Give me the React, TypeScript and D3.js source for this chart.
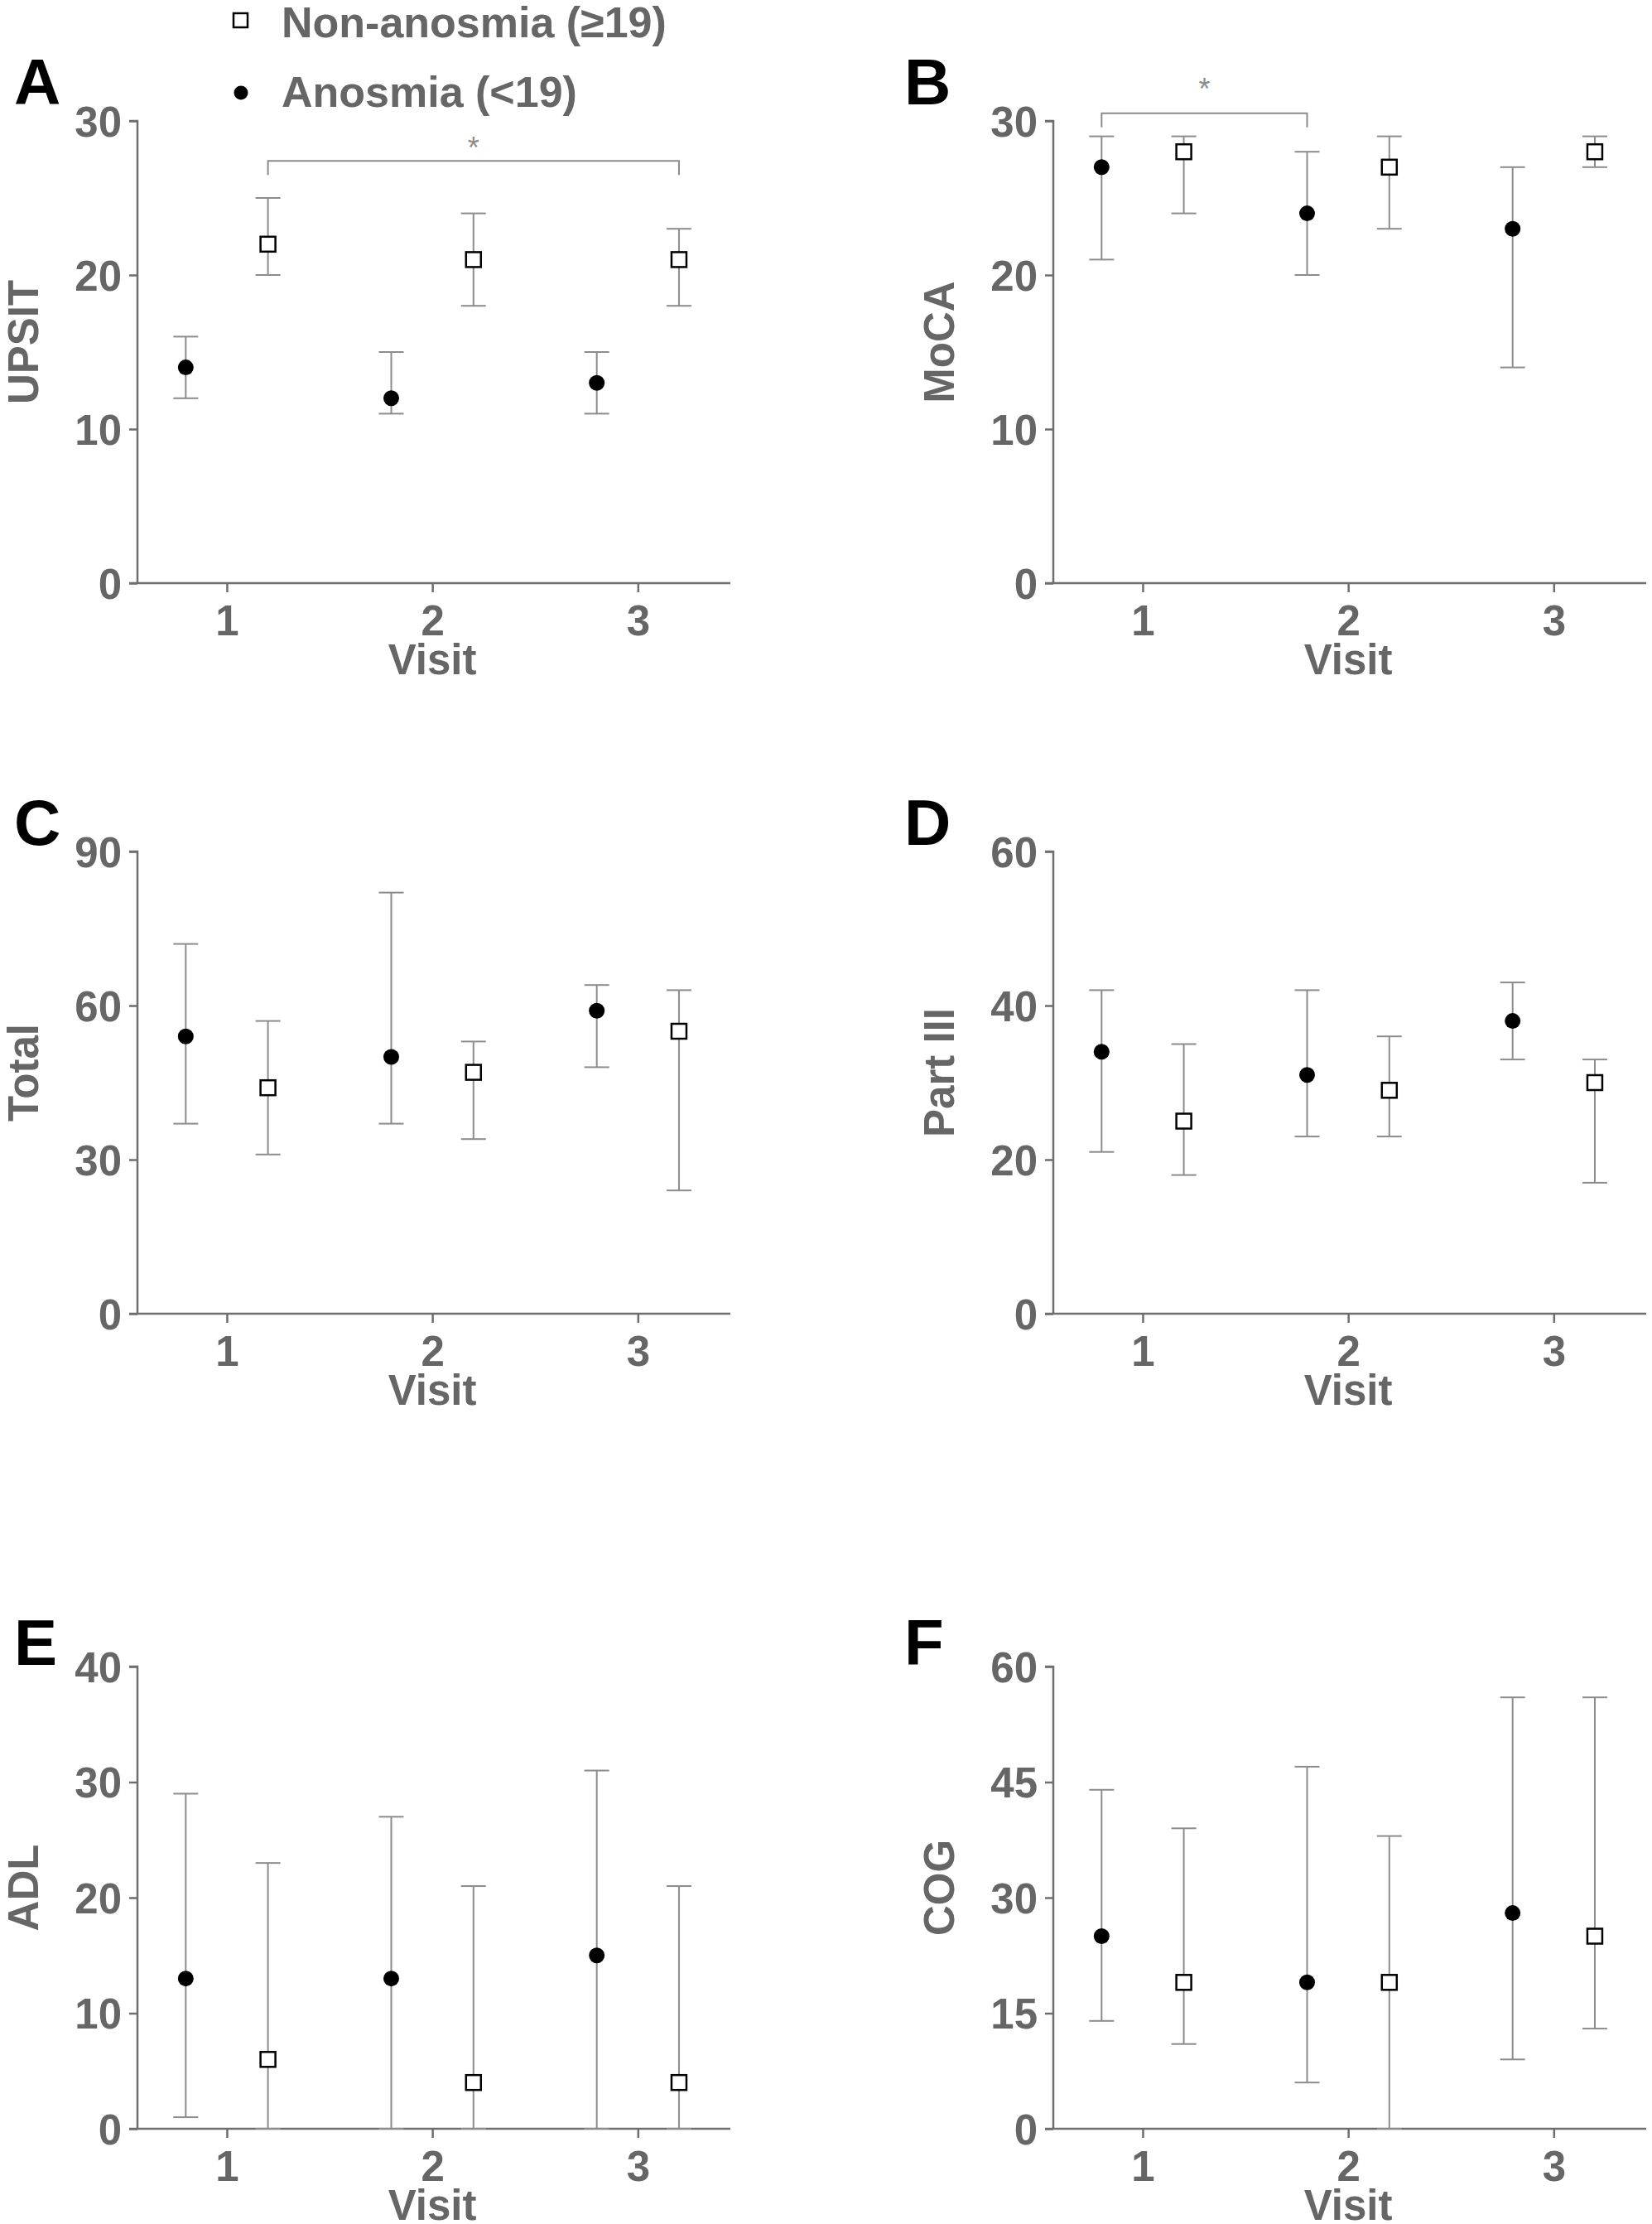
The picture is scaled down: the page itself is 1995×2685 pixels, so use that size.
import { useEffect, useRef } from 'react';
import * as d3 from 'd3';

// [median, lower, upper] per visit
const visits = [1, 2, 3];

const upsitAnosmia = [[14, 12, 16], [12, 11, 15], [13, 11, 15]];
const upsitNon = [[22, 20, 25], [21, 18, 24], [21, 18, 23]];
const upsitTicks = [0, 10, 20, 30];

const mocaAnosmia = [[27, 21, 29], [24, 20, 28], [23, 14, 27]];
const mocaNon = [[28, 24, 29], [27, 23, 29], [28, 27, 29]];
const mocaTicks = [0, 10, 20, 30];

const totalAnosmia = [[54, 37, 72], [50, 37, 82], [59, 48, 64]];
const totalNon = [[44, 31, 57], [47, 34, 53], [55, 24, 63]];
const totalTicks = [0, 30, 60, 90];

const part3Anosmia = [[34, 21, 42], [31, 23, 42], [38, 33, 43]];
const part3Non = [[25, 18, 35], [29, 23, 36], [30, 17, 33]];
const part3Ticks = [0, 20, 40, 60];

const adlAnosmia = [[13, 1, 29], [13, 0, 27], [15, 0, 31]];
const adlNon = [[6, 0, 23], [4, 0, 21], [4, 0, 21]];
const adlTicks = [0, 10, 20, 30, 40];

const cogAnosmia = [[25, 14, 44], [19, 6, 47], [28, 9, 56]];
const cogNon = [[19, 11, 39], [19, 0, 38], [25, 13, 56]];
const cogTicks = [0, 15, 30, 45, 60];

// significance brackets: [x from, x to, y level]
const upsitBracket = [1.2, 3.2, 27.4];
const mocaBracket = [0.8, 1.8, 30.5];

const legendLabels = ['Non-anosmia (\u226519)', 'Anosmia (<19)'];

const panels = [
  { letter: 'A', title: 'UPSIT', ticks: upsitTicks, anosmia: upsitAnosmia, non: upsitNon, col: 0, row: 0, bracket: upsitBracket, starDy: -3 },
  { letter: 'B', title: 'MoCA', ticks: mocaTicks, anosmia: mocaAnosmia, non: mocaNon, col: 1, row: 0, bracket: mocaBracket, starDy: -17 },
  { letter: 'C', title: 'Total', ticks: totalTicks, anosmia: totalAnosmia, non: totalNon, col: 0, row: 1, bracket: null, starDy: 0 },
  { letter: 'D', title: 'Part III', ticks: part3Ticks, anosmia: part3Anosmia, non: part3Non, col: 1, row: 1, bracket: null, starDy: 0 },
  { letter: 'E', title: 'ADL', ticks: adlTicks, anosmia: adlAnosmia, non: adlNon, col: 0, row: 2, bracket: null, starDy: 0 },
  { letter: 'F', title: 'COG', ticks: cogTicks, anosmia: cogAnosmia, non: cogNon, col: 1, row: 2, bracket: null, starDy: 0 },
];

const W = 1995;
const H = 2685;
const colX = [166, 1272];
const rowBottom = [704, 1586, 2570];
const letterBaseline = [126, 1020, 2010];
const letterX = [17, 1092];
const plotW = 716;
const plotH = 558;
const FONT = '"Liberation Sans", Arial, sans-serif';
const TEXT = '#666666';
const AXIS = '#6e6e6e';
const BAR = '#8c8c8c';

export default function App() {
  const svgRef = useRef<SVGSVGElement>(null);

  useEffect(() => {
    if (!svgRef.current) return;
    document.body.style.margin = '0';

    const svg = d3.select(svgRef.current);
    svg.selectAll('*').remove();

    svg.append('rect').attr('width', W).attr('height', H).attr('fill', 'white');

    panels.forEach(p => {
      const x0 = colX[p.col];
      const y0 = rowBottom[p.row];
      const yMax = p.ticks[p.ticks.length - 1];

      const x = d3.scaleLinear().domain([0.565, 3.45]).range([x0, x0 + plotW]);
      const y = d3.scaleLinear().domain([0, yMax]).range([y0, y0 - plotH]);

      const g = svg.append('g');

      // panel letter
      g.append('text')
        .attr('x', letterX[p.col])
        .attr('y', letterBaseline[p.row])
        .style('font-family', FONT)
        .style('font-weight', 'bold')
        .style('font-size', '78px')
        .style('fill', 'black')
        .text(p.letter);

      // y axis
      const yAxis = g.append('g')
        .attr('transform', `translate(${x0},0)`)
        .call(d3.axisLeft(y).tickValues(p.ticks).tickSize(10).tickPadding(9).tickFormat(d3.format('d')));
      yAxis.select('.domain').attr('stroke', AXIS).attr('stroke-width', 2.5)
        .attr('d', `M-10,${y(yMax)}H0V${y0}`);
      yAxis.selectAll('.tick line').attr('stroke', AXIS).attr('stroke-width', 2.5);
      yAxis.selectAll('.tick text')
        .style('font-family', FONT).style('font-weight', 'bold')
        .style('font-size', '51px').style('fill', TEXT)
        .attr('dy', '0.36em');

      // x axis
      const xAxis = g.append('g')
        .attr('transform', `translate(0,${y0})`)
        .call(d3.axisBottom(x).tickValues(visits).tickSize(11).tickPadding(16).tickFormat(d3.format('d')));
      xAxis.select('.domain').attr('stroke', AXIS).attr('stroke-width', 2.5)
        .attr('d', `M${x0 - 10},0H${x0 + plotW}`);
      xAxis.selectAll('.tick line').attr('stroke', AXIS).attr('stroke-width', 2.5);
      xAxis.selectAll('.tick text')
        .style('font-family', FONT).style('font-weight', 'bold')
        .style('font-size', '51px').style('fill', TEXT)
        .attr('dy', '0.71em');

      g.append('text')
        .attr('x', x(2))
        .attr('y', y0 + 110)
        .attr('text-anchor', 'middle')
        .style('font-family', FONT).style('font-weight', 'bold')
        .style('font-size', '51px').style('fill', TEXT)
        .text('Visit');

      // y title
      g.append('text')
        .attr('transform', `translate(${x0 - 120},${y0 - plotH / 2 - 12}) rotate(-90)`)
        .attr('text-anchor', 'middle')
        .style('font-family', FONT).style('font-weight', 'bold')
        .style('font-size', '51px').style('fill', TEXT)
        .text(p.title);

      // error bars + markers
      const series = [
        { rows: p.anosmia, offset: -0.2, kind: 'circle' },
        { rows: p.non, offset: 0.2, kind: 'square' },
      ];
      series.forEach(s => {
        s.rows.forEach((r, i) => {
          const cx = x(visits[i] + s.offset);
          const bars = g.append('g').attr('stroke', BAR).attr('stroke-width', 2);
          bars.append('line').attr('x1', cx).attr('x2', cx).attr('y1', y(r[1])).attr('y2', y(r[2]));
          bars.append('line').attr('x1', cx - 15).attr('x2', cx + 15).attr('y1', y(r[1])).attr('y2', y(r[1]));
          bars.append('line').attr('x1', cx - 15).attr('x2', cx + 15).attr('y1', y(r[2])).attr('y2', y(r[2]));
        });
      });
      series.forEach(s => {
        s.rows.forEach((r, i) => {
          const cx = x(visits[i] + s.offset);
          if (s.kind === 'circle') {
            g.append('circle').attr('cx', cx).attr('cy', y(r[0])).attr('r', 9.5).attr('fill', 'black');
          } else {
            g.append('rect').attr('x', cx - 9).attr('y', y(r[0]) - 9).attr('width', 18).attr('height', 18)
              .attr('fill', 'white').attr('stroke', 'black').attr('stroke-width', 2.5);
          }
        });
      });

      // significance bracket
      if (p.bracket) {
        const [b0, b1, by] = p.bracket;
        const yy = y(by);
        g.append('path')
          .attr('d', `M${x(b0)},${yy + 17}V${yy}H${x(b1)}V${yy + 17}`)
          .attr('fill', 'none').attr('stroke', BAR).attr('stroke-width', 2);
        g.append('text')
          .attr('x', (x(b0) + x(b1)) / 2)
          .attr('y', yy + p.starDy)
          .attr('text-anchor', 'middle')
          .style('font-family', FONT).style('font-size', '36px').style('fill', BAR)
          .text('*');
      }
    });

    // legend
    const lg = svg.append('g');
    lg.append('rect').attr('x', 282).attr('y', 16).attr('width', 17).attr('height', 17)
      .attr('fill', 'white').attr('stroke', 'black').attr('stroke-width', 2.5);
    lg.append('circle').attr('cx', 291).attr('cy', 112).attr('r', 8.5).attr('fill', 'black');
    legendLabels.forEach((t, i) => {
      lg.append('text')
        .attr('x', 340)
        .attr('y', i === 0 ? 45 : 129)
        .style('font-family', FONT).style('font-weight', 'bold')
        .style('font-size', '52px').style('fill', TEXT)
        .text(t);
    });
  }, []);

  return <svg ref={svgRef} width={W} height={H} style={{ display: 'block' }} />;
}
